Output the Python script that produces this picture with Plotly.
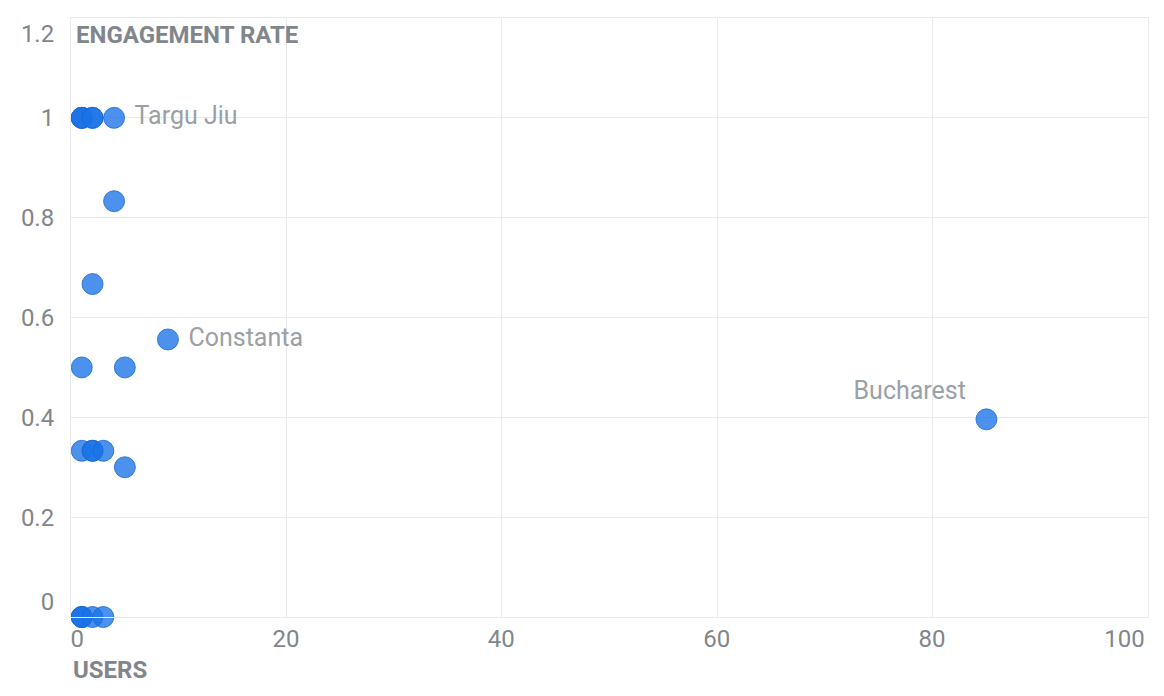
import plotly.graph_objects as go

# Data (users vs engagement rate per city)
cities = ["", "", "", "", "", "Targu Jiu", "", "", "Constanta", "", "", "", "", "", "", "", "Bucharest", "", "", "", "", ""]
users = [1, 1, 1, 2, 2, 4, 4, 2, 9, 1, 5, 1, 2, 2, 3, 5, 85, 1, 1, 1, 2, 3]
engagement = [1, 1, 1, 1, 1, 1, 0.833, 0.667, 0.556, 0.5, 0.5, 0.333, 0.333, 0.333, 0.333, 0.3, 0.396, 0, 0, 0, 0, 0]

x_range = [0, 100]
y_range = [0, 1.2]
x_ticks = [0, 20, 40, 60, 80, 100]
x_ticktext = ["0", "20", "40", "60", "80", "100" + "\u2002\u2006"]
y_ticks = [0, 0.2, 0.4, 0.6, 0.8, 1, 1.2]
y_ticktext = ["0<br>\u2002", "0.2", "0.4", "0.6", "0.8", "1", "\u2002<br>1.2"]

label_pos = ["top left" if c == "Bucharest" else "middle right" for c in cities]
label_txt = [(c + "\u2005") if p == "top left" else ("\u2005" + c) if c else "" for c, p in zip(cities, label_pos)]

FONT = "Roboto"
TICK_COLOR = "#80868b"
GRID = "#e8eaed"
FS = 24

fig = go.Figure()
fig.add_trace(go.Scatter(
    x=users, y=engagement, mode="markers+text",
    text=label_txt, textposition=label_pos,
    textfont=dict(family=FONT, size=25, color="#9aa0a6"),
    marker=dict(size=21, color="rgba(26,115,232,0.78)",
                line=dict(width=1, color="rgba(25,103,210,0.8)")),
    cliponaxis=False, showlegend=False, hoverinfo="x+y",
))

tickfont = dict(family=FONT, size=FS, color=TICK_COLOR)

fig.update_layout(
    width=1156, height=680,
    margin=dict(l=63, r=16, t=10, b=71),
    paper_bgcolor="white", plot_bgcolor="white",
    font=dict(family=FONT, size=FS, color=TICK_COLOR),
    xaxis=dict(range=x_range, tickvals=x_ticks, ticktext=x_ticktext,
               showgrid=True, gridcolor=GRID, gridwidth=1,
               showline=True, linecolor=GRID, mirror=True, zeroline=False,
               ticks="outside", ticklen=8, tickcolor="rgba(0,0,0,0)",
               ticklabelposition="outside left", ticklabelshift=14,
               ticklabeloverflow="allow", automargin=False, tickfont=tickfont),
    yaxis=dict(range=y_range, tickvals=y_ticks, ticktext=y_ticktext,
               showgrid=True, gridcolor=GRID, gridwidth=1,
               showline=True, linecolor=GRID, mirror=True, zeroline=False,
               ticks="outside", ticklen=11, tickcolor="rgba(0,0,0,0)",
               ticklabeloverflow="allow", automargin=False, tickfont=tickfont),
    annotations=[
        dict(text="<b>ENGAGEMENT RATE</b>", xref="paper", yref="paper", x=0.003, y=0.972,
             xanchor="left", yanchor="middle", showarrow=False,
             font=dict(family=FONT, size=FS, color=TICK_COLOR)),
        dict(text="<b>USERS</b>", xref="paper", yref="paper", x=0, y=-0.088,
             xanchor="left", yanchor="middle", showarrow=False,
             font=dict(family=FONT, size=FS, color=TICK_COLOR)),
    ],
)

fig.write_html("out.html")
